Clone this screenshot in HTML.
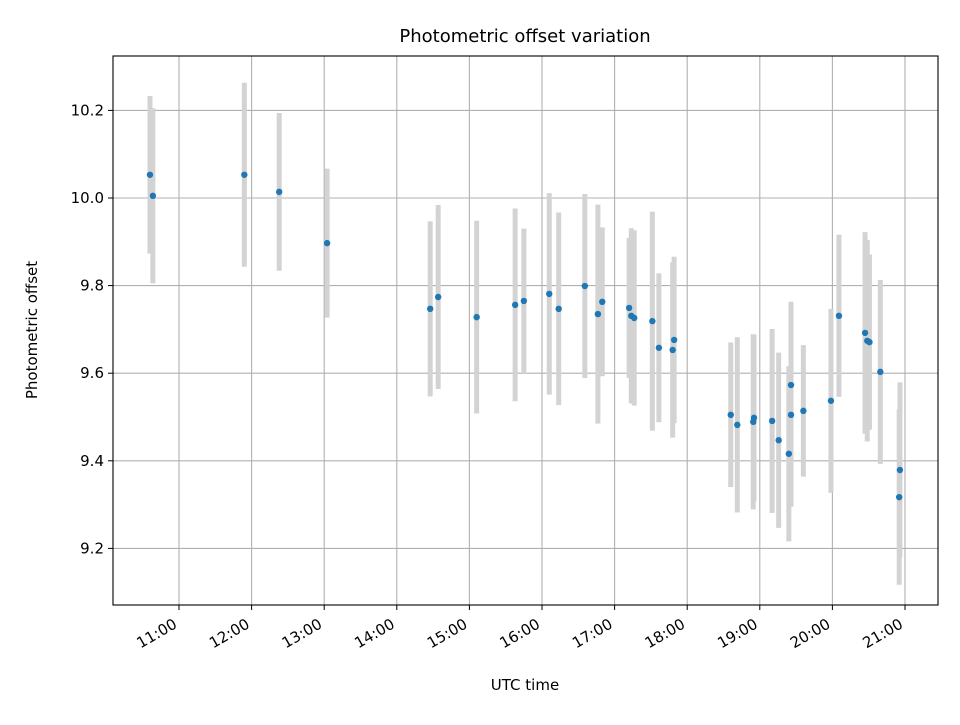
<!DOCTYPE html>
<html><head><meta charset="utf-8"><style>
body{margin:0;background:#fff;}
svg{font-family:"DejaVu Sans","Liberation Sans",sans-serif;}
</style></head><body>
<svg id="chart" width="960" height="720" viewBox="0 0 960 720"></svg>
<script>
const times=[10.60,10.64,11.90,12.38,13.04,14.46,14.57,15.10,15.63,15.75,16.10,16.23,16.59,16.77,16.83,17.20,17.23,17.27,17.52,17.61,17.80,17.82,18.60,18.69,18.91,18.92,19.17,19.26,19.40,19.43,19.43,19.60,19.98,20.09,20.45,20.48,20.51,20.66,20.93,20.92];
const values=[10.053,10.005,10.053,10.014,9.897,9.747,9.774,9.728,9.756,9.765,9.781,9.747,9.799,9.735,9.763,9.749,9.731,9.726,9.719,9.658,9.653,9.676,9.505,9.482,9.489,9.498,9.491,9.447,9.416,9.573,9.505,9.514,9.537,9.731,9.692,9.674,9.671,9.603,9.379,9.317];
const errors=[0.18,0.2,0.21,0.18,0.17,0.2,0.21,0.22,0.22,0.165,0.23,0.22,0.21,0.25,0.17,0.16,0.2,0.2,0.25,0.17,0.2,0.19,0.165,0.2,0.2,0.19,0.21,0.2,0.2,0.19,0.21,0.15,0.21,0.185,0.23,0.23,0.2,0.21,0.2,0.2];
const xTicks=[11,12,13,14,15,16,17,18,19,20,21];
const xTickLabels=["11:00","12:00","13:00","14:00","15:00","16:00","17:00","18:00","19:00","20:00","21:00"];
const yTicks=[9.2,9.4,9.6,9.8,10.0,10.2];
const yTickLabels=["9.2","9.4","9.6","9.8","10.0","10.2"];

const L=113,R=938,T=56,B=605;
const xs=h=>179+(h-11)*72.6;
const ys=v=>198-(v-10.0)*438;
const svg=document.getElementById('chart');
const NS='http://www.w3.org/2000/svg';
function mk(tag,attrs,parent){const e=document.createElementNS(NS,tag);for(const k in attrs)e.setAttribute(k,attrs[k]);(parent||svg).appendChild(e);return e;}

const grid=mk('g',{});


xTicks.forEach(t=>{const l=mk('line',{x1:xs(t),x2:xs(t),y1:T,y2:B,stroke:'#b0b0b0','stroke-width':1.1},grid);});
yTicks.forEach(t=>{const l=mk('line',{x1:L,x2:R,y1:ys(t),y2:ys(t),stroke:'#b0b0b0','stroke-width':1.1},grid);});

const eb=mk('g',{});


times.forEach((t,i)=>{const l=mk('line',{x1:xs(t),x2:xs(t),y1:ys(values[i]+errors[i]),y2:ys(values[i]-errors[i]),stroke:'#d3d3d3','stroke-width':5},eb);});
const pts=mk('g',{});


times.forEach((t,i)=>{const c=mk('circle',{cx:xs(t),cy:ys(values[i]),r:3.2,fill:'#1f77b4'},pts);});

const frame=mk('rect',{x:L,y:T,width:R-L,height:B-T,fill:'none',stroke:'#000','stroke-width':1.1});



xTicks.forEach((t,i)=>{const x=xs(t);mk('line',{x1:x,x2:x,y1:B,y2:B+5,stroke:'#000','stroke-width':1});
const ax=x-1, ay=B+22;
const tx=mk('text',{x:ax,y:ay,'font-size':15,'text-anchor':'end',transform:`rotate(-30 ${ax} ${ay})`});tx.textContent=xTickLabels[i];});
yTicks.forEach((t,i)=>{const y=ys(t);mk('line',{x1:L-5,x2:L,y1:y,y2:y,stroke:'#000','stroke-width':1});
const tx=mk('text',{x:L-9,y:y+5,'font-size':15,'text-anchor':'end'});tx.textContent=yTickLabels[i];});

const title=mk('text',{x:525,y:42,'font-size':18,'text-anchor':'middle'});title.textContent='Photometric offset variation';


const xl=mk('text',{x:525,y:690,'font-size':15,'text-anchor':'middle'});xl.textContent='UTC time';


const yl=mk('text',{x:37,y:330,'font-size':15,'text-anchor':'middle',transform:'rotate(-90 37 330)'});yl.textContent='Photometric offset';


</script>
</body></html>
